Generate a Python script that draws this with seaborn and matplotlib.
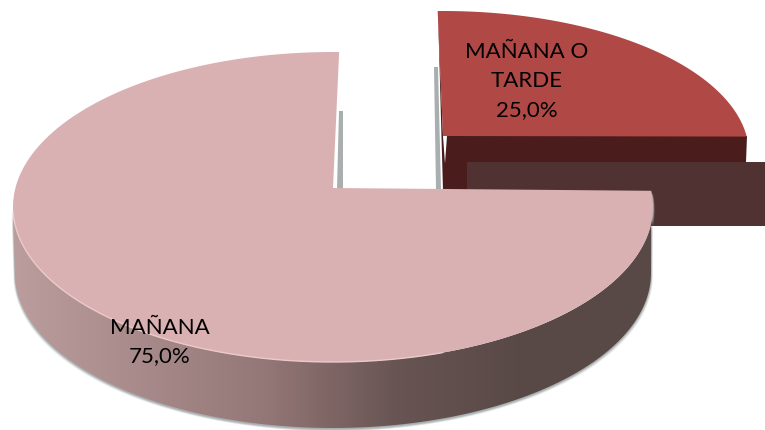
import numpy as np
import matplotlib
matplotlib.use("Agg")
import matplotlib.pyplot as plt
from matplotlib.patches import PathPatch, Polygon
import seaborn as sns

# Data
labels = ["MAÑANA O\nTARDE", "MAÑANA"]
shares = [25.0, 75.0]

# Colours
RED_TOP = "#b04846"
RED_WALL = "#4a1c1c"
CUT_WALL = "#503232"
PINK_TOP = "#d9b1b2"
RIM_LIGHT = "#eccaca"
SHADOW = "#a9aeae"
WALL_COLORS = ["#bb9d9d", "#a88a8a", "#937676", "#685553", "#584846", "#594a48"]

sns.set_theme(style="white")
plt.rcParams["font.family"] = ["Lato", "DejaVu Sans"]

fig = plt.figure(figsize=(7.65, 4.31), dpi=100)
ax = fig.add_axes([0, 0, 1, 1])


def rim(cx, cy, rx, ry, t1, t2, n=200):
    """Points on an ellipse, t in degrees, screen y pointing down."""
    t = np.radians(np.linspace(t1, t2, n))
    return np.column_stack([cx + rx * np.cos(t), cy - ry * np.sin(t)])


def slice_angles(values):
    """Start and end angle of each slice, clockwise from 12 o'clock."""
    edges = 90 - np.cumsum([0] + list(values)) / sum(values) * 360
    return list(zip(edges[:-1], edges[1:]))


def pct_label(name, value):
    return f"{name}\n{value:.1f}".replace(".", ",") + "%"


(small_a, small_b), (big_a, big_b) = slice_angles(shares)

# small exploded slice
small_top = rim(443, 155, 306, 143, small_a + 1, small_b + 7)
ax.add_patch(Polygon([[447, 137], [747, 137], [746, 163], [468, 163], [468, 192], [443, 192]],
                     color=RED_WALL, lw=0, zorder=2))
ax.add_patch(Polygon([[434, 68], [438, 68], [441, 190], [436, 190]], color=SHADOW, lw=0, zorder=1))
ax.add_patch(Polygon([[438, 12], [443, 192], [447, 192], [443, 137]], color=RED_WALL, lw=0, zorder=2))
ax.add_patch(Polygon(np.vstack([[443, 137], small_top]), color=RED_TOP, lw=0, zorder=3))

# flat cut wall of the big slice, runs off the right side
ax.add_patch(Polygon([[467, 163], [765, 163], [765, 227], [467, 227]], color=CUT_WALL, lw=0, zorder=4))

# big slice: wall with gradient, soft shadow under it, then top face
wall_low = rim(333, 274, 318, 155, 180, 360)
wall_up = rim(333, 208, 320, 155, 180, 366)
wall_pts = np.vstack([wall_up, wall_low[::-1]])
for off, alpha in [(3, 0.25), (2, 0.45), (1, 0.8)]:
    ax.add_patch(Polygon(wall_pts + [off * 0.6, off], color=SHADOW, alpha=alpha, lw=0, zorder=4))
    ax.add_patch(Polygon(wall_pts + [-off * 0.5, off], color=SHADOW, alpha=alpha, lw=0, zorder=4))

wall_poly = Polygon(wall_pts)
wall_clip = PathPatch(wall_poly.get_path().transformed(wall_poly.get_patch_transform()),
                      transform=ax.transData, fc="none", ec="none")
ax.add_patch(wall_clip)
grad = np.array(sns.blend_palette(WALL_COLORS, 256))[None, :, :]
img = ax.imshow(grad, extent=[13, 652, 431, 190], aspect="auto", zorder=5)
img.set_clip_path(wall_clip)

ax.add_patch(Polygon([[339, 112], [343, 112], [343, 190], [337, 190]], color=SHADOW, lw=0, zorder=1))

big_top = rim(333, 208, 320, 155, 88.9, 88.9 + (big_a - big_b) * 277.1 / 270)
ax.add_patch(Polygon(np.vstack([[333, 189], big_top]), color=PINK_TOP, lw=0, zorder=6))
ax.plot(*rim(333, 208, 320, 155, 182, 290).T, color=RIM_LIGHT, lw=1, zorder=7)

# labels
ax.text(527, 81, pct_label(labels[0], shares[0]), ha="center", va="center",
        fontsize=16, linespacing=1.54, color="black", zorder=8)
ax.text(160, 342, pct_label(labels[1], shares[1]), ha="center", va="center",
        fontsize=16, linespacing=1.54, color="black", zorder=8)

ax.set_xlim(0, 765)
ax.set_ylim(431, 0)
ax.axis("off")
fig.savefig("out.png", dpi=100, facecolor="white")
